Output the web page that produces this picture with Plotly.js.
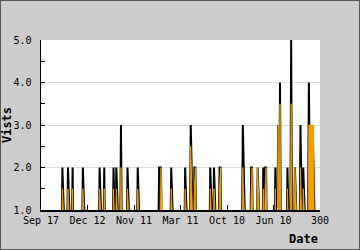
<!DOCTYPE html>
<html>
<head>
<meta charset="utf-8">
<script src="https://cdn.plot.ly/plotly-3.0.1.min.js"></script>
<style>
  html, body { margin: 0; padding: 0; background: #cccccc; }
  #chart { width: 360px; height: 250px; }
  #frame { position: absolute; left: 0; top: 0; width: 358px; height: 248px; border: 1px solid #555; pointer-events: none; }
</style>
</head>
<body>
<div id="chart"></div>
<div id="frame"></div>
<script>
// Day index 0..300 (daily samples)
const visits = [
  0,0,0,0,0,0,0,0,0,0,
  0,0,0,0,0,0,0,0,0,0,
  0,0,0,2,0,0,0,0,0,2,
  0,0,0,0,2,0,0,0,0,0,
  0,0,0,0,0,2,0,0,0,0,
  0,0,0,0,0,0,0,0,0,0,
  0,0,0,2,0,0,0,0,2,0,
  0,0,0,0,0,0,0,0,2,0,
  0,2,0,0,0,0,3,0,0,0,
  0,0,0,2,0,0,0,0,0,0,
  0,0,0,0,2,0,0,0,0,0,
  0,0,0,0,0,0,0,0,0,0,
  0,0,0,0,0,0,0,2,2,2,
  0,0,0,0,0,0,0,0,0,0,
  2,0,0,0,0,0,0,0,0,0,
  0,0,0,0,0,2,0,0,0,0,
  0,3,0,0,0,2,2,0,0,0,
  0,0,0,0,0,0,0,0,0,0,
  0,0,2,0,0,0,2,0,0,0,
  0,0,2,2,0,0,0,0,0,0,
  0,0,0,0,0,0,0,0,0,0,
  0,0,0,0,0,0,0,3,0,0,
  0,0,0,0,0,0,2,2,0,0,
  0,0,0,2,0,0,0,0,0,2,
  0,2,2,0,0,0,0,0,0,0,
  0,0,2,0,0,3,0,4,0,0,
  0,0,0,0,0,2,0,0,0,5,
  0,0,0,2,0,0,0,0,0,3,
  0,0,2,0,0,0,0,0,4,2,
  2,2,3,0,0,0,0,0,0,0,
  0
];
const uniques = [
  0,0,0,0,0,0,0,0,0,0,
  0,0,0,0,0,0,0,0,0,0,
  0,0,0,1.5,0,0,0,0,0,1.5,
  0,0,0,0,1.5,0,0,0,0,0,
  0,0,0,0,0,1.5,0,0,0,0,
  0,0,0,0,0,0,0,0,0,0,
  0,0,0,1.5,0,0,0,0,1.5,0,
  0,0,0,0,0,0,0,0,1.5,0,
  0,1.5,0,0,0,0,2,0,0,0,
  0,0,0,1.5,0,0,0,0,0,0,
  0,0,0,0,1.5,0,0,0,0,0,
  0,0,0,0,0,0,0,0,0,0,
  0,0,0,0,0,0,0,0,0,2,
  0,0,0,0,0,0,0,0,0,0,
  1.5,0,0,0,0,0,0,0,0,0,
  0,0,0,0,0,1.5,0,0,0,0,
  0,2.5,0,0,0,1.5,2,0,0,0,
  0,0,0,0,0,0,0,0,0,0,
  0,0,1.5,0,0,0,1.5,0,0,0,
  0,0,1.5,2,0,0,0,0,0,0,
  0,0,0,0,0,0,0,0,0,0,
  0,0,0,0,0,0,0,2,0,0,
  0,0,0,0,0,0,1.5,2,0,0,
  0,0,0,2,0,0,0,0,0,1.5,
  0,1.5,2,0,0,0,0,0,0,0,
  0,0,1.5,0,0,3,0,3.5,0,0,
  0,0,0,0,0,1.5,0,0,0,3.5,
  0,0,0,2,0,0,0,0,0,2,
  0,0,1.5,0,0,0,0,0,3,3,
  3,3,3,3,0,0,0,0,0,0,
  0
];
const tickPositions = [0, 50, 100, 150, 200, 250, 300];
const tickLabels = ['Sep 17', 'Dec 12', 'Nov 11', 'Mar 11', 'Oct 10', 'Jun 10', '300'];

const days = visits.map((_, i) => i);

const mono = '"DejaVu Sans Mono", "Liberation Mono", monospace';

const traces = [
  {
    x: days, y: visits, type: 'scatter', mode: 'lines',
    line: { color: '#000000', width: 2 },
    fill: 'tozeroy',
    fillcolor: '#333333',
    fillgradient: { type: 'vertical', start: 1.5, stop: 2.4, colorscale: [[0, '#b0b0b0'], [1, '#000000']] },
    hoverinfo: 'skip', showlegend: false
  },
  {
    x: days, y: uniques, type: 'scatter', mode: 'lines',
    line: { color: '#f5a000', width: 0.9 },
    fill: 'tozeroy', fillcolor: '#f5a000',
    hoverinfo: 'skip', showlegend: false
  }
];

const layout = {
  width: 360, height: 250,
  margin: { l: 41, r: 40, t: 40, b: 40, pad: 0 },
  paper_bgcolor: '#cccccc',
  plot_bgcolor: '#ffffff',
  showlegend: false,
  font: { family: mono, size: 10, color: '#000000' },
  xaxis: {
    range: [0, 300],
    tickmode: 'array', tickvals: tickPositions, ticktext: tickLabels,
    ticks: 'inside', ticklen: 5, tickcolor: '#000000', tickwidth: 1,
    showgrid: false, zeroline: false,
    showline: true, linecolor: '#000000', linewidth: 1.5,
    tickfont: { family: mono, size: 10, color: '#000000' },
    fixedrange: true
  },
  yaxis: {
    range: [1, 5],
    tickmode: 'array', tickvals: [1, 2, 3, 4, 5], ticktext: ['1.0', '2.0', '3.0', '4.0', '5.0'],
    ticks: 'inside', ticklen: 4, tickcolor: '#000000', tickwidth: 1,
    ticklabelstandoff: 6,
    minor: { tickvals: [1.5, 2.5, 3.5, 4.5], ticks: 'inside', ticklen: 4, tickcolor: '#000000', showgrid: false },
    showgrid: true, gridcolor: '#dddddd', gridwidth: 1,
    zeroline: false,
    showline: true, linecolor: '#000000', linewidth: 1.5,
    tickfont: { family: mono, size: 10, color: '#000000' },
    title: { text: 'Vists', font: { family: mono, size: 12, color: '#000000', weight: 'bold' }, standoff: 4 },
    fixedrange: true
  },
  annotations: [
    {
      text: '<b>Date</b>', xref: 'paper', yref: 'paper', x: 1, y: -0.115,
      xanchor: 'right', yanchor: 'top', showarrow: false,
      font: { family: mono, size: 12, color: '#000000' }
    }
  ]
};

Plotly.newPlot('chart', traces, layout, { displayModeBar: false, staticPlot: true });
</script>
</body>
</html>
